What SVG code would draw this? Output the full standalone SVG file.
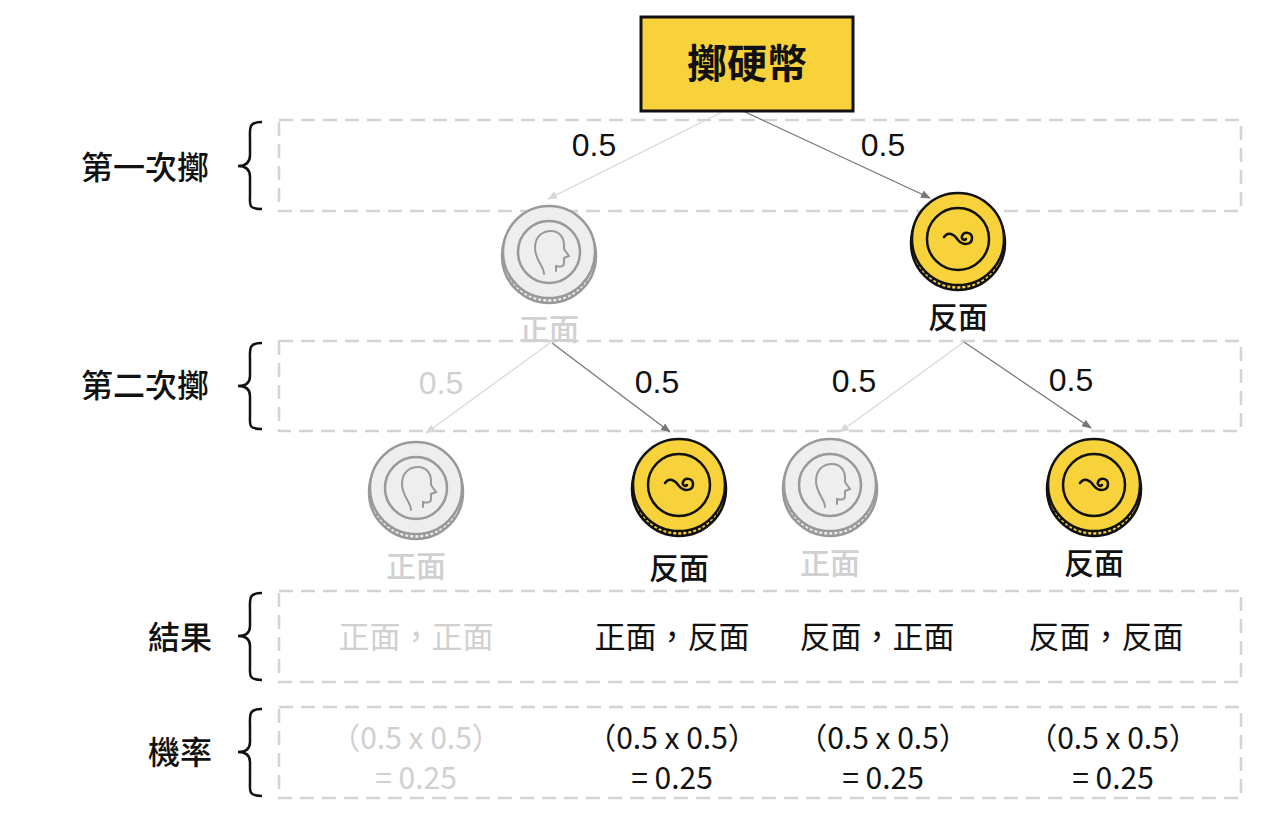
<svg xmlns="http://www.w3.org/2000/svg" width="1270" height="832" viewBox="0 0 1270 832">
<style>
text{font-family:"Noto Sans CJK TC","Liberation Sans",sans-serif;text-anchor:middle}
.row{fill:none;stroke:#d4d4d4;stroke-width:2.5;stroke-dasharray:14 8}
.lbl{font-size:32px;font-weight:500;fill:#111}
.brace{fill:none;stroke:#111;stroke-width:2.5}
.p{font-size:32px;fill:#111;font-family:"Liberation Sans","Noto Sans CJK TC",sans-serif}
.pg{font-size:32px;fill:#d0d0d0;font-family:"Liberation Sans","Noto Sans CJK TC",sans-serif}
.r{font-size:31px;fill:#111}
.rg{font-size:31px;fill:#d0d0d0}
.q{font-size:30px;fill:#111}
.qg{font-size:30px;fill:#d0d0d0}
.cl{font-size:30px;fill:#111;font-weight:500}
.clg{font-size:30px;fill:#d0d0d0;font-weight:500}
.ad{stroke:#777;stroke-width:1.3;fill:none}
.al{stroke:#d8d8d8;stroke-width:1.3;fill:none}
</style>
<defs>
<marker id="md" markerWidth="10" markerHeight="10" refX="9" refY="5" orient="auto" markerUnits="userSpaceOnUse"><path d="M0,1 L10,5 L0,9 z" fill="#777"/></marker>
<marker id="ml" markerWidth="10" markerHeight="10" refX="9" refY="5" orient="auto" markerUnits="userSpaceOnUse"><path d="M0,1 L10,5 L0,9 z" fill="#d8d8d8"/></marker>
<g id="ytail">
<circle cx="0" cy="4" r="47" fill="#f7d23a" stroke="#111" stroke-width="2.5"/>
<path d="M-40,26 A47,47 0 0 0 40,26" fill="none" stroke="#111" stroke-width="5" stroke-dasharray="2 3"/>
<circle cx="0" cy="0" r="46" fill="#f7d23a" stroke="#111" stroke-width="2.5"/>
<circle cx="0" cy="0" r="31" fill="none" stroke="#111" stroke-width="2.5"/>
<path d="M-14,-2 C-10,-8 -4,-5 0,1 C5,7 14,6 14,-1 C14,-7 6,-8 4,-3 C3,0 6,2 8,0" fill="none" stroke="#111" stroke-width="2.5" stroke-linecap="round"/>
</g>
<g id="ghead">
<circle cx="0" cy="4" r="47" fill="#eee" stroke="#999" stroke-width="2.5"/>
<path d="M-40,26 A47,47 0 0 0 40,26" fill="none" stroke="#999" stroke-width="5" stroke-dasharray="2 3"/>
<circle cx="0" cy="0" r="46" fill="#eee" stroke="#999" stroke-width="2.5"/>
<circle cx="0" cy="0" r="31" fill="none" stroke="#999" stroke-width="2.5"/>
<path d="M-5,22 C-5,14 -14,8 -14,-4 C-14,-16 -6,-21 2,-21 C10,-21 15,-15 15,-7 L15,-3 L20,4 L15,6 L15,11 C15,15 11,15 7,14 L7,19" fill="none" stroke="#999" stroke-width="2" stroke-linecap="round"/>
</g>
</defs>
<rect width="1270" height="832" fill="#fff"/>
<g id="rows">
<rect class="row" x="279" y="120" width="962" height="91"/>
<rect class="row" x="279" y="341" width="962" height="90"/>
<rect class="row" x="279" y="591" width="962" height="91"/>
<rect class="row" x="279" y="707" width="962" height="91"/>
</g>
<g id="labels">
<text class="lbl" x="145" y="179">第一次擲</text>
<path class="brace" d="M262,122 C248,122 250,128 250,140 L250,155 C250,162 246,166 238,166 C246,166 250,170 250,177 L250,195 C250,205 248,209 262,209"/>
<text class="lbl" x="145" y="397">第二次擲</text>
<path class="brace" d="M262,343 C248,343 250,349 250,361 L250,376 C250,383 246,386 238,386 C246,386 250,389 250,396 L250,415 C250,425 248,429 262,429"/>
<text class="lbl" x="180" y="649">結果</text>
<path class="brace" d="M262,593 C248,593 250,599 250,611 L250,626 C250,633 246,636 238,636 C246,636 250,639 250,646 L250,665 C250,675 248,680 262,680"/>
<text class="lbl" x="180" y="764">機率</text>
<path class="brace" d="M262,709 C248,709 250,715 250,727 L250,742 C250,749 246,752 238,752 C246,752 250,755 250,762 L250,781 C250,791 248,796 262,796"/>
</g>
<g id="connectors">
<path class="al" d="M722,112 L548,199" marker-end="url(#ml)"/>
<path class="ad" d="M745,112 L930,198" marker-end="url(#md)"/>
<path class="al" d="M550,343 L426,433" marker-end="url(#ml)"/>
<path class="ad" d="M552,343 L670,432" marker-end="url(#md)"/>
<path class="al" d="M964,342 L840,432" marker-end="url(#ml)"/>
<path class="ad" d="M964,342 L1091,428" marker-end="url(#md)"/>
<text class="p" x="594" y="156">0.5</text>
<text class="p" x="883" y="156">0.5</text>
<text class="pg" x="441" y="394">0.5</text>
<text class="p" x="657" y="393">0.5</text>
<text class="p" x="854" y="392">0.5</text>
<text class="p" x="1071" y="391">0.5</text>
</g>
<g id="root">
<rect x="641" y="17" width="212" height="94" fill="#f7d23a" stroke="#111" stroke-width="3"/>
<text x="747" y="78" font-size="40" font-weight="700" fill="#111">擲硬幣</text>
</g>
<g id="n1"><use href="#ghead" x="549" y="252"/><text class="clg" x="549" y="340">正面</text></g>
<g id="n2"><use href="#ytail" x="958" y="239"/><text class="cl" x="958" y="328">反面</text></g>
<g id="n3"><use href="#ghead" x="416" y="488"/><text class="clg" x="416" y="577">正面</text></g>
<g id="n4"><use href="#ytail" x="679" y="485"/><text class="cl" x="679" y="579">反面</text></g>
<g id="n5"><use href="#ghead" x="830" y="485"/><text class="clg" x="830" y="574">正面</text></g>
<g id="n6"><use href="#ytail" x="1094" y="485"/><text class="cl" x="1094" y="574">反面</text></g>
<g id="results">
<text class="rg" x="416" y="648">正面，正面</text>
<text class="r" x="672" y="648">正面，反面</text>
<text class="r" x="877" y="648">反面，正面</text>
<text class="r" x="1106" y="648">反面，反面</text>
</g>
<g id="probs">
<text class="qg" x="416" y="749">（0.5 x 0.5）</text><text class="qg" x="416" y="789">= 0.25</text>
<text class="q" x="672" y="749">（0.5 x 0.5）</text><text class="q" x="672" y="789">= 0.25</text>
<text class="q" x="883" y="749">（0.5 x 0.5）</text><text class="q" x="883" y="789">= 0.25</text>
<text class="q" x="1113" y="749">（0.5 x 0.5）</text><text class="q" x="1113" y="789">= 0.25</text>
</g>
</svg>
